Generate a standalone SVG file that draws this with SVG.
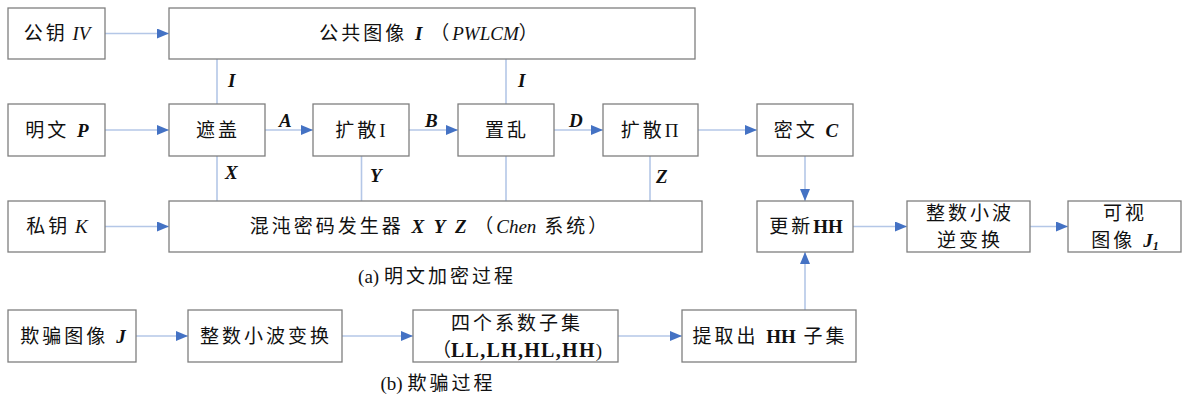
<svg xmlns="http://www.w3.org/2000/svg" width="1184" height="396" viewBox="0 0 1184 396">
<style>
.box{fill:#fff;stroke:#7f7f7f;stroke-width:1.3}
.ln{stroke:#b4c7e7;stroke-width:1.6;fill:none}
.arr{stroke:#b4c7e7;stroke-width:1.6;fill:none;marker-end:url(#ah)}
text{font-family:"Liberation Serif","Noto Sans CJK SC",serif;font-size:19px;fill:#111;letter-spacing:3px}
.c{text-anchor:middle}
.bi{font-weight:bold;font-style:italic;letter-spacing:0}
.i{font-style:italic;letter-spacing:0}
.b{font-weight:bold;letter-spacing:0}
.n{letter-spacing:0}
.lab{font-family:"Liberation Serif",serif;font-weight:bold;font-style:italic;font-size:19px;letter-spacing:0}
</style>
<defs>
<marker id="ah" viewBox="0 0 12 10" refX="12" refY="5" markerWidth="12" markerHeight="10" markerUnits="userSpaceOnUse" orient="auto">
<path d="M0,0 L12,5 L0,10 Z" fill="#4472c4"/>
</marker>
</defs>
<rect width="1184" height="396" fill="#fff"/>
<g id="connectors">
<line class="arr" x1="105" y1="33.5" x2="169" y2="33.5"/>
<line class="arr" x1="105" y1="130" x2="169" y2="130"/>
<line class="arr" x1="265" y1="130" x2="313" y2="130"/>
<line class="arr" x1="409" y1="130" x2="458" y2="130"/>
<line class="arr" x1="554" y1="130" x2="603" y2="130"/>
<line class="arr" x1="698" y1="130" x2="757" y2="130"/>
<line class="arr" x1="105" y1="226.5" x2="169" y2="226.5"/>
<line class="ln" x1="217" y1="59" x2="217" y2="104"/>
<line class="ln" x1="506" y1="59" x2="506" y2="104"/>
<line class="ln" x1="217" y1="156" x2="217" y2="201"/>
<line class="ln" x1="361.5" y1="156" x2="361.5" y2="201"/>
<line class="ln" x1="506" y1="156" x2="506" y2="201"/>
<line class="ln" x1="650" y1="156" x2="650" y2="201"/>
<line class="arr" x1="805" y1="156" x2="805" y2="201"/>
<line class="arr" x1="805" y1="310" x2="805" y2="252"/>
<line class="arr" x1="853" y1="226.5" x2="907" y2="226.5"/>
<line class="arr" x1="1030" y1="226.5" x2="1068" y2="226.5"/>
<line class="arr" x1="136" y1="336" x2="188" y2="336"/>
<line class="arr" x1="342" y1="336" x2="413" y2="336"/>
<line class="arr" x1="618" y1="336" x2="682" y2="336"/>
<text class="lab" x="228" y="87">I</text>
<text class="lab" x="518" y="87">I</text>
<text class="lab" x="279" y="127">A</text>
<text class="lab" x="425" y="127">B</text>
<text class="lab" x="569" y="127">D</text>
<text class="lab" x="225" y="179">X</text>
<text class="lab" x="370" y="182">Y</text>
<text class="lab" x="656" y="183">Z</text>
</g>
<g id="n-iv"><rect class="box" x="8" y="8" width="97" height="51"/><text class="c" x="57" y="40">公钥<tspan class="n"> </tspan><tspan class="i">IV</tspan></text></g>
<g id="n-public"><rect class="box" x="169" y="8" width="526" height="51"/><text class="c" x="430" y="40">公共图像 <tspan class="bi">I</tspan> （<tspan class="i">PWLCM</tspan>）</text></g>
<g id="n-plain"><rect class="box" x="8" y="104" width="97" height="52"/><text class="c" x="57" y="137">明文 <tspan class="bi">P</tspan></text></g>
<g id="n-mask"><rect class="box" x="169" y="104" width="96" height="52"/><text class="c" x="218" y="137">遮盖</text></g>
<g id="n-diff1"><rect class="box" x="313" y="104" width="96" height="52"/><text class="c" x="362" y="137">扩散I</text></g>
<g id="n-perm"><rect class="box" x="458" y="104" width="96" height="52"/><text class="c" x="507" y="137">置乱</text></g>
<g id="n-diff2"><rect class="box" x="603" y="104" width="95" height="52"/><text class="c" x="651" y="137">扩散Π</text></g>
<g id="n-cipher"><rect class="box" x="757" y="104" width="96" height="52"/><text class="c" x="806" y="137">密文 <tspan class="bi">C</tspan></text></g>
<g id="n-key"><rect class="box" x="8" y="201" width="97" height="51"/><text class="c" x="57" y="233">私钥<tspan class="n"> </tspan><tspan class="i">K</tspan></text></g>
<g id="n-chaos"><rect class="box" x="169" y="201" width="533" height="51"/><text class="c" x="430" y="233">混沌密码发生器 <tspan class="bi">X&#160;&#160;Y&#160;&#160;Z</tspan> （<tspan class="i">Chen</tspan> 系统）</text></g>
<g id="n-update"><rect class="box" x="757" y="201" width="96" height="51"/><text class="c" x="806" y="233">更新<tspan class="b">HH</tspan></text></g>
<g id="n-iiwt"><rect class="box" x="907" y="201" width="123" height="51"/><text class="c" x="970" y="220">整数小波</text><text class="c" x="970" y="247">逆变换</text></g>
<g id="n-visible"><rect class="box" x="1068" y="201" width="113" height="51"/><text class="c" x="1125" y="220">可视</text><text class="c" x="1125" y="247">图像 <tspan class="bi">J</tspan><tspan class="bi" style="font-size:12px" dy="3">1</tspan></text></g>
<g id="n-fake"><rect class="box" x="8" y="310" width="128" height="52"/><text class="c" x="73" y="343">欺骗图像 <tspan class="bi">J</tspan></text></g>
<g id="n-iwt"><rect class="box" x="188" y="310" width="154" height="52"/><text class="c" x="266" y="343">整数小波变换</text></g>
<g id="n-four"><rect class="box" x="413" y="310" width="205" height="52"/><text class="c" x="517" y="330">四个系数子集</text><text class="c" x="517" y="357" style="letter-spacing:0">（<tspan class="b" style="font-size:20px;letter-spacing:1.3px">LL,LH,HL,HH</tspan>)</text></g>
<g id="n-extract"><rect class="box" x="682" y="310" width="174" height="52"/><text class="c" x="770" y="343">提取出 <tspan class="b">HH</tspan> 子集</text></g>
<text class="c" x="437" y="283"><tspan class="n">(a) </tspan>明文加密过程</text>
<text class="c" x="438" y="390"><tspan class="n">(b) </tspan>欺骗过程</text>
</svg>
